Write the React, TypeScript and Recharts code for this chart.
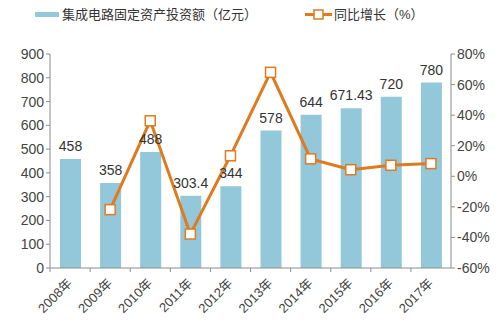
import React from 'react';
import {
  ComposedChart,
  Bar,
  Line,
  XAxis,
  YAxis,
  LabelList,
} from 'recharts';

const years = ['2008年', '2009年', '2010年', '2011年', '2012年', '2013年', '2014年', '2015年', '2016年', '2017年'];
const investment = [458, 358, 488, 303.4, 344, 578, 644, 671.43, 720, 780];
const growth: (number | null)[] = [null, -21.8, 36.3, -37.8, 13.4, 68.0, 11.4, 4.3, 7.2, 8.3];
const leftTicks = [0, 100, 200, 300, 400, 500, 600, 700, 800, 900];
const rightTicks = [-60, -40, -20, 0, 20, 40, 60, 80];

const BAR_COLOR = '#92C8DA';
const LINE_COLOR = '#E07A1F';
const AXIS_COLOR = '#8c8c8c';
const FONT = '"Liberation Sans", "Noto Sans CJK SC", sans-serif';

const chartData = years.map((year, i) => ({
  year,
  investment: investment[i],
  growth: growth[i],
}));

function SquareDot(props: any) {
  const { cx, cy, value } = props;
  if (value == null || cx == null || cy == null) return null;
  return (
    <rect x={cx - 5} y={cy - 5} width={10} height={10} fill="#fff" stroke={LINE_COLOR} strokeWidth={1.5} />
  );
}

function YearTick(props: any) {
  const { x, y, payload } = props;
  return (
    <g>
      <line x1={x - 20} y1={y - 8} x2={x - 20} y2={y - 4} stroke={AXIS_COLOR} />
      <text
        x={x + 3}
        y={y + 8}
        textAnchor="end"
        fontSize={13}
        fill="#444"
        fontFamily={FONT}
        transform={`rotate(-45 ${x + 3} ${y + 8})`}
      >
        {payload.value}
      </text>
    </g>
  );
}

function ChartLegend() {
  return (
    <svg width={504} height={24} style={{ position: 'absolute', left: 0, top: 5 }}>
      <rect x={35} y={7} width={24} height={5} fill={BAR_COLOR} />
      <text x={62} y={14} fontSize={13} fill="#333" fontFamily={FONT}>集成电路固定资产投资额（亿元）</text>
      <line x1={305} y1={9.5} x2={332} y2={9.5} stroke={LINE_COLOR} strokeWidth={3} />
      <rect x={314} y={5} width={9} height={9} fill="#fff" stroke={LINE_COLOR} strokeWidth={1.5} />
      <text x={334} y={14} fontSize={13} fill="#333" fontFamily={FONT}>同比增长（%）</text>
    </svg>
  );
}

export default function App() {
  return (
    <div style={{ position: 'absolute', left: 0, top: 0, width: 504, height: 323, background: '#fff' }}>
      <ChartLegend />
      <ComposedChart
        width={504}
        height={323}
        data={chartData}
        margin={{ top: 54, right: 0, bottom: 0, left: 0 }}
      >
        <XAxis
          dataKey="year"
          height={55}
          axisLine={{ stroke: AXIS_COLOR }}
          tickLine={false}
          tick={<YearTick />}
          interval={0}
        />
        <YAxis
          yAxisId="left"
          domain={[0, 900]}
          ticks={leftTicks}
          width={50}
          axisLine={{ stroke: AXIS_COLOR }}
          tickLine={{ stroke: AXIS_COLOR }}
          tickSize={4}
          tick={{ fill: '#444', fontSize: 14, fontFamily: FONT }}
        />
        <YAxis
          yAxisId="right"
          orientation="right"
          domain={[-60, 80]}
          ticks={rightTicks}
          width={53}
          axisLine={{ stroke: AXIS_COLOR }}
          tickLine={{ stroke: AXIS_COLOR }}
          tickSize={4}
          tickFormatter={(v: number) => `${v}%`}
          tick={{ fill: '#444', fontSize: 14, fontFamily: FONT }}
        />
        <Bar yAxisId="left" dataKey="investment" fill={BAR_COLOR} barSize={21} isAnimationActive={false}>
          <LabelList dataKey="investment" position="top" offset={8} fill="#333" fontSize={14} fontFamily={FONT} />
        </Bar>
        <Line
          yAxisId="right"
          dataKey="growth"
          stroke={LINE_COLOR}
          strokeWidth={3}
          dot={<SquareDot />}
          activeDot={false}
          connectNulls={false}
          isAnimationActive={false}
        />
      </ComposedChart>
    </div>
  );
}
